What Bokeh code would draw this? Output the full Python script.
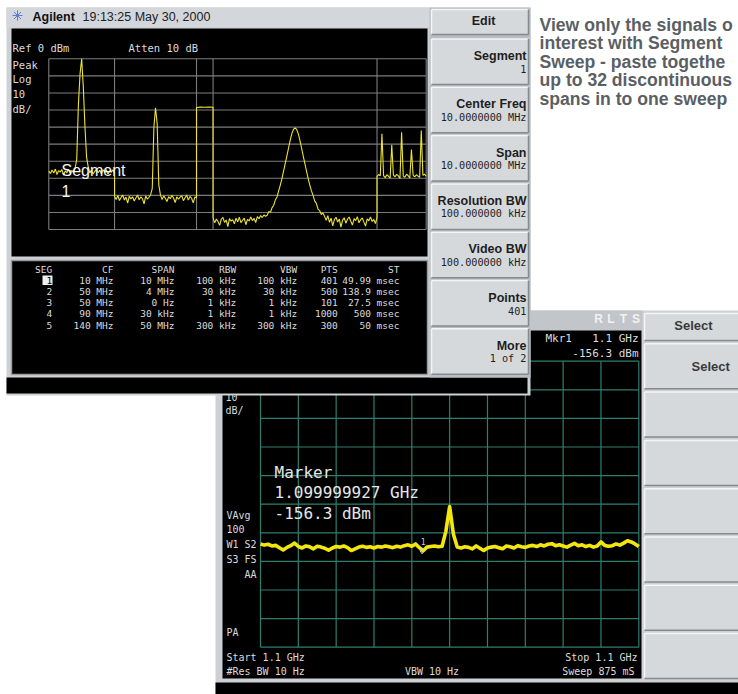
import numpy as np
from bokeh.plotting import figure
from bokeh.models import Range1d
from bokeh.core.properties import value
from bokeh.embed import file_html
from bokeh.resources import INLINE

# ---------------- data: segmented sweep (top screen) ----------------
SEG = ["1", "2", "3", "4", "5"]
CF = ["10 MHz", "50 MHz", "50 MHz", "90 MHz", "140 MHz"]
SPAN = ["10 MHz", "4 MHz", "0 Hz", "30 kHz", "50 MHz"]
RBW = ["100 kHz", "30 kHz", "1 kHz", "1 kHz", "300 kHz"]
VBW = ["100 kHz", "30 kHz", "1 kHz", "1 kHz", "300 kHz"]
PTS = [401, 500, 101, 1000, 300]
ST = ["49.99 msec", "138.9 msec", "27.5 msec", "500 msec", "50 msec"]

TOP_REF_DBM = 0
TOP_DB_PER_DIV = 10
TOP_DIVS = 10

# trace readings (dBm), evenly spread over each segment's points
SEG1_DB = [-65.8, -67.2, -65.1, -66.9, -64.6, -67.8, -65.5, -66.3, -64.9, -68.1,
           -65.7, -66.8, -64.8, -67.0, -65.4, -66.6, -64.2, -59.0, -27.0, -9.0,
           0.0, -16.6, -40.0, -57.6, -63.5, -66.9, -65.2, -67.5, -65.9, -64.7,
           -66.8, -65.3, -67.4, -65.0, -66.2, -64.9, -67.6, -65.6, -66.4, -65.1,
           -66.7]
SEG2_DB = [-80.6, -82.4, -80.1, -83.0, -81.2, -79.9, -82.7, -81.0, -84.6, -80.5,
           -82.1, -80.8, -83.3, -81.5, -79.8, -82.6, -80.9, -81.9, -85.0, -80.4,
           -82.2, -81.1, -79.6, -76.0, -40.0, -28.7, -38.0, -74.0, -79.7, -82.5,
           -80.3, -81.8, -83.6, -80.7, -82.0, -79.9, -81.6, -84.2, -80.8, -82.3,
           -81.0, -80.2, -83.1, -81.4, -79.8, -82.8, -80.6, -81.7, -84.4, -80.9,
           -81.5]
SEG3_DB = [-28.5, -28.3, -28.4, -28.2, -28.4]
SEG4_DB = [-93.2, -96.1, -93.8, -95.4, -97.6, -94.0, -92.9, -95.8, -94.4, -98.3,
           -93.6, -95.1, -94.2, -96.7, -93.4, -95.5, -92.8, -96.0, -94.6, -93.3,
           -97.2, -94.1, -95.0, -92.6, -94.8, -93.5, -95.9, -92.4, -93.7, -91.8,
           -93.0, -91.5, -92.2,
           -91.6, -89.5, -89.9, -87.2, -85.8, -82.6, -80.9, -77.4, -74.0, -70.2,
           -65.8, -61.4, -57.0, -52.4, -48.0, -44.0, -41.4, -40.4, -41.4, -44.0,
           -48.0, -52.4, -57.0, -61.4, -65.8, -70.2, -74.0, -77.4, -80.0, -83.4,
           -84.7, -88.1, -88.9, -91.2, -90.3,
           -92.3, -94.6, -91.9, -95.8, -93.4, -97.9, -94.2, -92.8, -95.6, -93.9,
           -98.6, -94.5, -93.1, -96.3, -94.0, -92.7, -95.2, -97.4, -93.6, -94.8,
           -92.5, -96.1, -94.3, -93.2, -95.7, -98.0, -93.8, -94.9, -92.6, -95.3,
           -94.1, -96.5, -93.0]
SEG5_DB = [-68.9, -67.8, -68.5, -43.9, -68.4, -69.6, -67.9, -68.8, -69.9, -50.4,
           -68.2, -69.1, -67.7, -68.6, -70.1, -43.0, -68.7, -69.4, -67.6, -68.5,
           -69.8, -53.1, -68.1, -69.2, -67.9, -68.7, -69.5, -42.0, -68.3, -67.6,
           -68.8]

SOFTKEYS_TOP = [("Segment", "1"), ("Center Freq", "10.0000000 MHz"),
                ("Span", "10.0000000 MHz"), ("Resolution BW", "100.000000 kHz"),
                ("Video BW", "100.000000 kHz"), ("Points", "401"), ("More", "1 of 2")]

# ---------------- data: zoomed sweep (bottom screen) ----------------
ZOOM_CENTER = "1.1 GHz"
ZOOM_SPAN_HZ = 1000
ZOOM_REF_DBM = -90
ZOOM_DB_PER_DIV = 10
ZOOM_DB = [-153.9, -154.3, -154.0, -154.6, -154.4, -155.2, -156.0, -155.1, -154.5, -153.6,
           -154.8, -155.3, -154.6, -154.9, -155.6, -154.7, -155.0, -155.4, -156.1, -155.3,
           -154.8, -155.0, -154.6, -155.2, -156.2, -155.6, -155.0, -154.7, -155.1, -154.9,
           -155.3, -154.8, -155.0, -154.6, -154.9, -155.2, -154.7, -155.0, -154.5, -154.2,
           -154.7, -153.9, -155.2, -156.3, -155.0, -154.8, -154.6, -154.9, -154.7, -149.5,
           -140.8, -150.5, -155.0, -155.3, -154.9, -155.1, -155.6, -154.6, -155.4, -156.2,
           -155.3, -155.0, -154.8, -155.2, -155.6, -154.6, -154.9, -155.3, -154.5, -154.9,
           -155.1, -154.6, -154.4, -154.8, -154.2, -154.6, -154.0, -153.8, -154.5, -154.2,
           -154.6, -155.0, -154.3, -153.7, -154.5, -154.2, -154.8, -154.4, -155.0, -154.6,
           -153.2, -154.4, -154.7, -154.5, -153.9, -154.3, -153.6, -152.8, -153.2, -153.9,
           -154.8]
MARKER_HZ = -73
MARKER_DBM = -156.3
SOFTKEYS_BOTTOM = ["", "Select", "", "", "", "", "", ""]

# caption as visible in the reference (cut by the page edge)
BLURB = ["View only the signals o", "interest with Segment",
         "Sweep - paste togethe", "up to 32 discontinuous", "spans in to one sweep"]

# ---------------- figure (pixel canvas) ----------------
W, H = 738, 694
OX, OY = 0, 0
p = figure(width=W, height=H, x_range=Range1d(OX, OX + W), y_range=Range1d(OY + H, OY),
           output_backend="svg", toolbar_location=None, min_border=0,
           x_axis_location=None, y_axis_location=None)
p.grid.visible = False
p.outline_line_color = None
p.background_fill_color = "white"
p.border_fill_color = "white"


def lin_range(va, pa, vb, pb, p_start, p_end):
    s = (vb - va) / (pb - pa)
    return Range1d(start=va + (p_start - pa) * s, end=va + (p_end - pa) * s)


# graticule boxes (pixels)
TG_L, TG_R, TG_T, TG_B = 48.3, 425.7, 58.3, 229.0
BG_L, BG_R, BG_T, BG_B = 260.0, 638.3, 360.7, 646.7
TOTAL_PTS = sum(PTS)
TOP_BOTTOM_DBM = TOP_REF_DBM - TOP_DB_PER_DIV * TOP_DIVS
ZOOM_BOTTOM_DBM = ZOOM_REF_DBM - ZOOM_DB_PER_DIV * 10

p.extra_x_ranges = {
    "tx": lin_range(0, TG_L, TOTAL_PTS, TG_R, OX, OX + W),
    "bx": lin_range(-ZOOM_SPAN_HZ / 2, BG_L, ZOOM_SPAN_HZ / 2, BG_R, OX, OX + W),
}
p.extra_y_ranges = {
    "ty": lin_range(TOP_REF_DBM, TG_T, TOP_BOTTOM_DBM, TG_B, OY + H, OY),
    "by": lin_range(ZOOM_REF_DBM, BG_T, ZOOM_BOTTOM_DBM, BG_B, OY + H, OY),
}

CHROME = "#cdd1d5"
FACE = "#d6d9dc"
HI = "#f4f5f6"
SH = "#858a8f"
TXT = "#dcdcdc"
KEY = "#1e1e1e"
MONO = "DejaVu Sans Mono"
SANS = "Liberation Sans"


def box(l, r, t, b, color, line=None, lw=1.0):
    p.quad(left=[l], right=[r], top=[t], bottom=[b], fill_color=color,
           line_color=line, line_width=lw)


def bevel(l, r, t, b, face=FACE):
    box(l, r, t, b, face)
    p.segment(x0=[l, l], y0=[t, t], x1=[r, l], y1=[t, b], line_color=HI, line_width=1.5)
    p.segment(x0=[l, r], y0=[b, t], x1=[r, r], y1=[b, b], line_color=SH, line_width=1.5)


def label(x, y, s, size, color=TXT, font=MONO, align="left", style="normal", **kw):
    p.text(x=[x], y=[y], text=[s], text_font=value(font), text_font_size=value(f"{size}px"),
           text_color=color, text_align=align, text_baseline="middle", text_font_style=style, **kw)


# ================= bottom screenshot (behind) =================
box(215, 745, 310, 700, CHROME)
box(215, 642, 310, 330, "#c2c6ca")
for i, ch in enumerate("RLTS"):
    label(598 + i * 12.5, 318.5, ch, 12, color="#f2f2f2", font=SANS, align="center", style="bold")
box(222, 641, 330, 678, "#000000")
box(215, 745, 682, 700, "#000000")

# bottom graticule
bx_lines = np.arange(-ZOOM_SPAN_HZ / 2, ZOOM_SPAN_HZ / 2 + 1, ZOOM_SPAN_HZ / 10)
by_lines = np.arange(ZOOM_REF_DBM, ZOOM_BOTTOM_DBM - 1, -ZOOM_DB_PER_DIV)
p.segment(x0=bx_lines, x1=bx_lines, y0=[ZOOM_REF_DBM] * len(bx_lines),
          y1=[ZOOM_BOTTOM_DBM] * len(bx_lines), line_color="#2f7f6f", line_width=1.2,
          x_range_name="bx", y_range_name="by")
p.segment(x0=[-ZOOM_SPAN_HZ / 2] * len(by_lines), x1=[ZOOM_SPAN_HZ / 2] * len(by_lines),
          y0=by_lines, y1=by_lines, line_color="#2f7f6f", line_width=1.2,
          x_range_name="bx", y_range_name="by")

zx = np.linspace(-ZOOM_SPAN_HZ / 2, ZOOM_SPAN_HZ / 2, len(ZOOM_DB))
p.line(zx, ZOOM_DB, line_color="#f2e60c", line_width=3.6, line_join="round",
       x_range_name="bx", y_range_name="by")
p.scatter(x=[MARKER_HZ], y=[MARKER_DBM], marker="diamond", size=6, fill_color=None,
          line_color="#cfcfcf", line_width=1, x_range_name="bx", y_range_name="by")
p.text(x=[MARKER_HZ], y=[MARKER_DBM], text=["1"], y_offset=-9, x_offset=1,
       text_font=value(MONO), text_font_size=value("8px"), text_color="#cfcfcf",
       text_align="center", text_baseline="middle", x_range_name="bx", y_range_name="by")

# bottom screen texts
label(545, 338, "Mkr1", 11)
label(638, 338, ZOOM_CENTER, 11, align="right")
label(638, 353, f"{MARKER_DBM:.1f} dBm", 11, align="right")
label(225, 396, "10", 10)
label(225, 410, "dB/", 10)
label(226, 515, "VAvg", 10)
label(226, 528.5, "100", 10)
label(226, 544, "W1  S2", 10)
label(226, 558.5, "S3  FS", 10)
label(244, 573.5, "AA", 10)
label(226, 631.5, "PA", 10)
label(226, 656.5, f"Start {ZOOM_CENTER}", 10)
label(226, 670.5, "#Res BW 10 Hz", 10)
label(431.5, 670.5, "VBW 10 Hz", 10, align="center")
label(637, 656.5, f"Stop {ZOOM_CENTER}", 10, align="right")
label(634, 670.5, "Sweep 875 mS", 10, align="right")
label(274, 471.5, "Marker", 16, color="#e6e6e6")
label(274, 491.5, f"1.099999927 GHz", 16, color="#e6e6e6")
label(274, 513, f"{MARKER_DBM:.1f} dBm", 16, color="#e6e6e6")

# bottom soft keys
bevel(644, 745, 313, 340)
label(693, 325, "Select", 13, color="#3a3a3a", font=SANS, align="center", style="bold")
for n in range(7):
    t = 343.3 + 48.3 * n
    bevel(644, 745, t, t + 45)
label(691, 366, SOFTKEYS_BOTTOM[1], 13, color="#3a3a3a", font=SANS, style="bold")

# ================= top screenshot (front) =================
box(6, 530, 7, 395, CHROME)
box(6, 430, 7, 27, "#d3d6da")
# logo star
p.segment(x0=[12, 17, 13.5, 13.5], y0=[15, 10, 11.5, 18.5], x1=[22, 17, 20.5, 20.5],
          y1=[15, 20, 18.5, 11.5], line_color="#5a80d0", line_width=1)
label(32, 16, "Agilent", 12.5, color="#111111", font=SANS, style="bold")
label(82, 16, "19:13:25  May 30, 2000", 12.5, color="#222222", font=SANS)

box(11, 427, 28, 256, "#000000")
box(11, 427, 260, 374, "#000000", line="#9a9a9a", lw=1.5)
box(6, 527, 377, 393, "#000000")

# top graticule
tb = np.concatenate([[0], np.cumsum(PTS)])
ty_lines = np.arange(TOP_REF_DBM, TOP_BOTTOM_DBM - 1, -TOP_DB_PER_DIV)
p.segment(x0=tb, x1=tb, y0=[TOP_REF_DBM] * len(tb), y1=[TOP_BOTTOM_DBM] * len(tb),
          line_color="#7c7c7c", line_width=1.1, x_range_name="tx", y_range_name="ty")
p.segment(x0=[0] * len(ty_lines), x1=[TOTAL_PTS] * len(ty_lines), y0=ty_lines, y1=ty_lines,
          line_color="#7c7c7c", line_width=1.1, x_range_name="tx", y_range_name="ty")

starts = np.concatenate([[0], np.cumsum(PTS)[:-1]])
tx, tyv = [], []
for s, n, vals in zip(starts, PTS, [SEG1_DB, SEG2_DB, SEG3_DB, SEG4_DB, SEG5_DB]):
    tx.extend(s + np.linspace(0, n, len(vals)))
    tyv.extend(vals)
p.line(tx, tyv, line_color="#eee330", line_width=1.1, x_range_name="tx", y_range_name="ty")

# top screen texts
label(12, 47, f"Ref {TOP_REF_DBM} dBm", 10.5)
label(128, 47, "Atten 10 dB", 10.5)
label(12, 64, "Peak", 10.5)
label(12, 78.5, "Log", 10.5)
label(12, 93, str(TOP_DB_PER_DIV), 10.5)
label(12, 108, "dB/", 10.5)
label(61, 170, "Segment", 16, color="#f4f4f4", font=SANS)
label(61, 190, "1", 16, color="#f4f4f4", font=SANS)

# table
cols = [("SEG", SEG, 51.7), ("CF", CF, 113), ("SPAN", SPAN, 174), ("RBW", RBW, 235.7),
        ("VBW", VBW, 296.7), ("PTS", [str(v) for v in PTS], 337.3), ("ST", ST, 399)]
row_y = [279.7 + 11.2 * r for r in range(len(SEG))]
box(42, 52, 275, 284.5, "#f0f0f0")
for head, vals, xr in cols:
    label(xr, 268.5, head, 9.5, align="right")
    colors = ["#000000" if (head == "SEG" and i == 0) else TXT for i in range(len(vals))]
    p.text(x=[xr] * len(vals), y=row_y, text=list(vals), text_font=value(MONO),
           text_font_size=value("9.5px"), text_color=colors, text_align="right",
           text_baseline="middle")

# top soft keys
box(429, 530, 7, 377, "#b9bdc1")
bevel(431, 528, 9, 34)
label(483, 20, "Edit", 12.5, color=KEY, font=SANS, align="center", style="bold")
for n, (k1, k2) in enumerate(SOFTKEYS_TOP):
    t = 38.5 + 48.3 * n
    bevel(431, 528, t, t + 45.5)
    label(526, t + 17, k1, 12.5, color=KEY, font=SANS, align="right", style="bold")
    label(526, t + 30, k2, 10.2, color=KEY, align="right")

# caption text on the right
for i, line in enumerate(BLURB):
    label(539, 24 + 18.5 * i, line, 17.6, color="#5a5f64", font=SANS, style="bold")

open("out.html", "w").write(file_html(p, INLINE))
